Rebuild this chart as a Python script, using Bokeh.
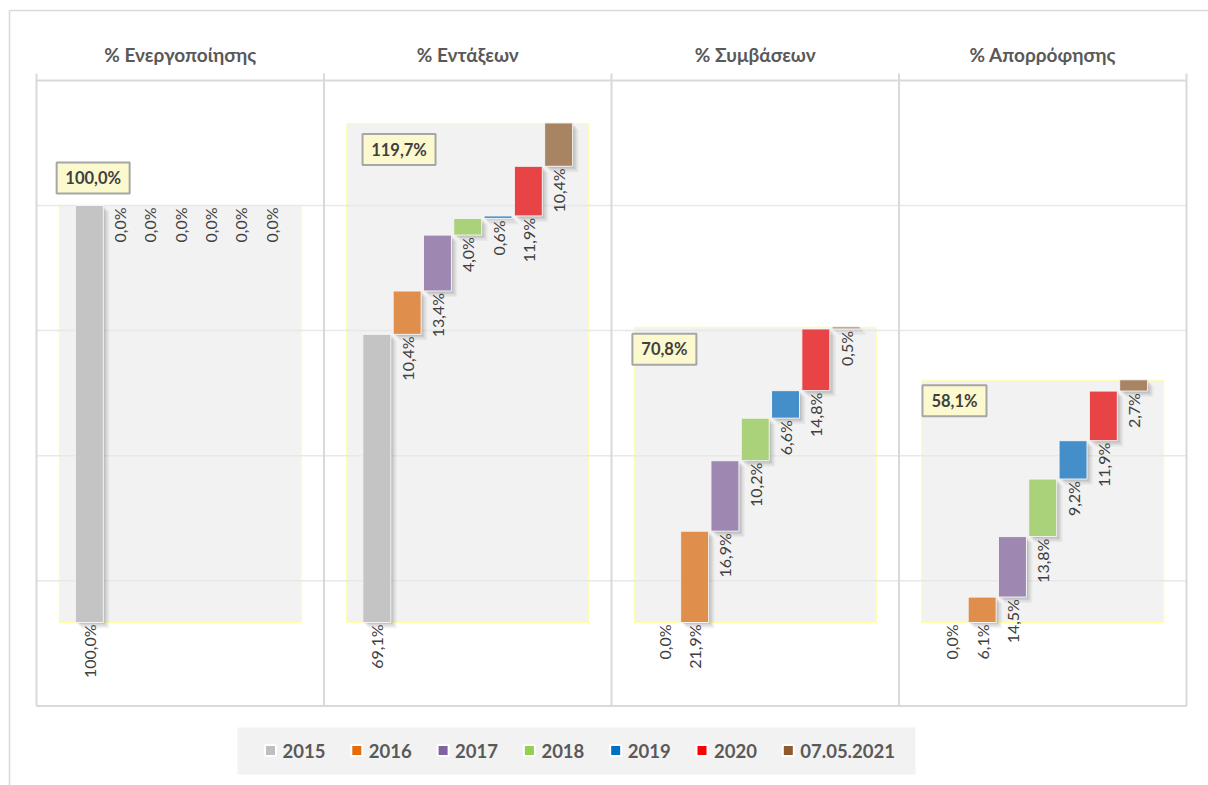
import math
from bokeh.plotting import figure
from bokeh.models import Range1d
from bokeh.core.properties import value
from bokeh.embed import file_html
from bokeh.resources import INLINE

# ---------------- data ----------------
panel_titles = ["% Ενεργοποίησης", "% Εντάξεων", "% Συμβάσεων", "% Απορρόφησης"]
years = ["2015", "2016", "2017", "2018", "2019", "2020", "07.05.2021"]
activation = [100.0, 0.0, 0.0, 0.0, 0.0, 0.0, 0.0]
inclusions = [69.1, 10.4, 13.4, 4.0, 0.6, 11.9, 10.4]
contracts = [0.0, 21.9, 16.9, 10.2, 6.6, 14.8, 0.5]
absorption = [0.0, 6.1, 14.5, 13.8, 9.2, 11.9, 2.7]
totals = [100.0, 119.7, 70.8, 58.1]
grid_values = [-20, 10, 40, 70, 100, 130]

series = [activation, inclusions, contracts, absorption]

bar_colors = ["#C4C4C4", "#E08E4B", "#9E88B2", "#A9D27A", "#448FC9", "#E84446", "#A88462"]
legend_colors = ["#BFBFBF", "#E46C0A", "#8064A2", "#92D050", "#0070C0", "#FF0000", "#8F5A2C"]

# ---------------- layout (pixel geometry) ----------------
FONT = value("Lato")
PX_X = 287.5          # px per panel
PX_Y = 4.17           # px per percent
ORIGIN_X = 36         # panel 0 left edge, in figure px
ZERO_Y = 622          # y=0 line, in figure px
W, H = 1208, 785

def dx(px):
    return px / PX_X

def dy(px):
    return px / PX_Y

X0 = -ORIGIN_X / PX_X
X1 = (W - ORIGIN_X) / PX_X
Y1 = ZERO_Y / PX_Y
Y0 = -(H - ZERO_Y) / PX_Y

SLOT = dx(30.3)
BAR_W = dx(28)
BG_W = dx(242)

p = figure(width=W, height=H, x_range=Range1d(X0, X1), y_range=Range1d(Y0, Y1),
           output_backend="svg", toolbar_location=None,
           x_axis_type=None, y_axis_type=None, min_border=0,
           outline_line_color=None, background_fill_color="white",
           border_fill_color="white")
p.grid.visible = False

n_panels = len(panel_titles)
ymin, ymax = grid_values[0], grid_values[-1]

# outer chart-area border (left & top)
ox = X0 + dx(9)
oy = Y1 - dy(10)
p.line([ox, ox, X1], [Y0, oy, oy], line_color="#D9D9D9", line_width=1.5)

# background rectangles (0 .. total)
p.quad(left=[i + 0.5 - BG_W / 2 for i in range(n_panels)],
       right=[i + 0.5 + BG_W / 2 for i in range(n_panels)],
       bottom=[0] * n_panels, top=totals,
       fill_color="#F2F2F2", line_color="#FFFFA6", line_width=1)

# gridlines
inner = grid_values[1:-1]
p.segment(x0=[0] * len(inner), y0=inner, x1=[n_panels] * len(inner), y1=inner,
          line_color="#E8E8E8", line_width=1.5)

# panel frame
p.segment(x0=[0, 0], y0=[ymin, ymax], x1=[n_panels, n_panels], y1=[ymin, ymax],
          line_color="#D9D9D9", line_width=2)
vx = list(range(n_panels + 1))
p.segment(x0=vx, y0=[ymin] * len(vx), x1=vx, y1=[ymax + dy(7)] * len(vx),
          line_color="#D9D9D9", line_width=2)

# titles
p.text(x=[i + 0.5 for i in range(n_panels)], y=[ymax + dy(26)] * n_panels,
       text=panel_titles, text_font=FONT, text_font_size="19px",
       text_font_style="bold", text_color="#595959",
       text_align="center", text_baseline="middle")

# waterfall bars
bl, br, bb, bt, bc = [], [], [], [], []
lx, ly, lt = [], [], []
for pi_, vals in enumerate(series):
    cum = 0.0
    for i, v in enumerate(vals):
        xc = pi_ + 0.5 + (i - 3) * SLOT
        base = cum
        cum += v
        lx.append(xc)
        ly.append(base - dy(2))
        lt.append(f"{v:.1f}".replace(".", ",") + "%")
        if v > 0:
            bl.append(xc - BAR_W / 2)
            br.append(xc + BAR_W / 2)
            bb.append(base)
            bt.append(base + v)
            bc.append(bar_colors[i])

# soft drop shadows
for off, a in [(6, 0.04), (4.5, 0.05), (3, 0.07), (1.5, 0.08)]:
    p.quad(left=[l + dx(off) for l in bl], right=[r + dx(off) for r in br],
           bottom=[b - dy(off) for b in bb], top=[t - dy(off) for t in bt],
           fill_color="black", fill_alpha=a, line_color=None)

p.quad(left=bl, right=br, bottom=bb, top=bt, fill_color=bc,
       line_color="#F4F4F4", line_width=1)

# value labels (rotated, below each bar's base)
p.text(x=lx, y=ly, text=lt, angle=math.pi / 2, text_font=FONT,
       text_font_size="16px", text_color="#404040",
       text_align="right", text_baseline="middle")

# total boxes
box_pos = [(0.197, 106.6), (1.261, 113.4), (2.184, 65.5), (3.193, 53.2)]
tot_txt = [f"{t:.1f}".replace(".", ",") + "%" for t in totals]
p.rect(x=[b[0] for b in box_pos], y=[b[1] for b in box_pos],
       width=[9 * len(t) + 19 for t in tot_txt], height=31,
       width_units="screen", height_units="screen",
       fill_color="#FDF9CF", line_color="#A6A6A6", line_width=2)
p.text(x=[b[0] for b in box_pos], y=[b[1] for b in box_pos], text=tot_txt,
       text_font=FONT, text_font_size="16.5px", text_font_style="bold",
       text_color="#404040", text_align="center", text_baseline="middle")

# legend (manual, equal-width entries)
leg_l, leg_r = dx(237 - 36), dx(915 - 36)
leg_t, leg_b = dy(622 - 727), dy(622 - 774)
p.quad(left=[leg_l], right=[leg_r], bottom=[leg_b], top=[leg_t],
       fill_color="#F2F2F2", line_color=None)
leg_y = dy(622 - 750)
sq_x = [dx(270 - 36 + 86.3 * k) for k in range(len(years))]
tx_x = [dx(282 - 36 + 86.3 * k) for k in range(len(years))]
p.scatter(x=sq_x, y=[leg_y] * len(years), marker="square", size=11,
          fill_color=legend_colors, line_color="white", line_width=2)
p.text(x=tx_x, y=[leg_y] * len(years), text=years, text_font=FONT,
       text_font_size="18.5px", text_font_style="bold", text_color="#595959",
       text_align="left", text_baseline="middle")

open("out.html", "w").write(file_html(p, INLINE))
